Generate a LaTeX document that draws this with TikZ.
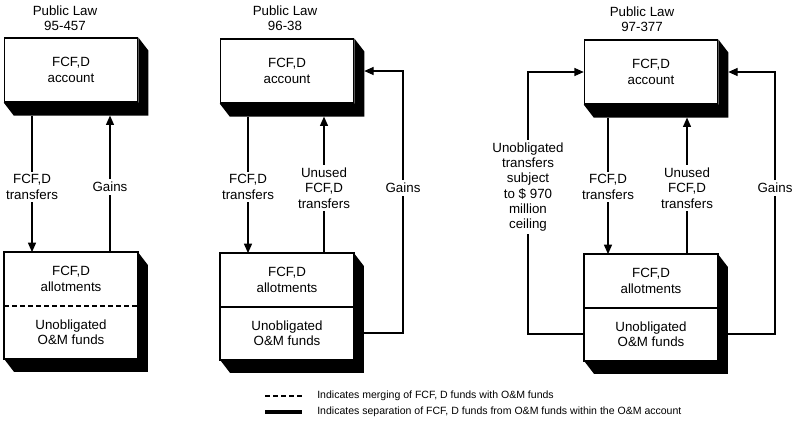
\documentclass[tikz,border=0pt]{standalone}
\usepackage{fontspec}
\setmainfont{Liberation Sans}
\usetikzlibrary{arrows.meta,calc}
\tikzset{
  acct/.style={draw,line width=0.9pt,minimum width=100pt,minimum height=48pt,align=center},
  part/.style={minimum width=100pt,minimum height=40pt,align=center},
  lbl/.style={align=center,inner sep=2pt},
  ln/.style={line width=0.9pt},
  arr/.style={ln,-{Triangle[length=7pt,width=6pt]}},
  merge/.style={line width=1.6pt,dash pattern=on 4pt off 2pt},
  keytext/.style={anchor=west,inner sep=0pt,font=\fontsize{7.9}{9}\selectfont},
}
% black extrusion below and right of a box (top node, bottom node)
\newcommand{\boxshadow}[2]{%
  \fill (#2.south west) -- ($(#2.south west)+(10,13)$) -- ($(#2.south east)+(10,13)$)
    -- ($(#1.north east)+(10,13)$) -- (#1.north east) -- (#2.south east) -- cycle;}
\begin{document}
\begin{tikzpicture}[x=0.75pt,y=-0.75pt,every node/.style={font=\fontsize{10}{11.5}\selectfont}]
    \useasboundingbox (0,0) rectangle (795,425);
    % Public Law 95-457
    \node[lbl] (tit1) at (65,18) {Public Law\\95-457};
    \node[acct] (acc1) at (71,70) {FCF,D\\account};
    \node[part] (allot1) at (71,279) {FCF,D\\allotments};
    \node[part] (funds1) at (71,332) {Unobligated\\O\&M funds};
    \draw[ln] (allot1.north west) rectangle (funds1.south east);
    \draw[merge] (allot1.south west) -- (allot1.south east);
    \boxshadow{acc1}{acc1}
    \boxshadow{allot1}{funds1}
    \node[lbl] (tr1) at (32,187) {FCF,D\\transfers};
    \node[lbl] (g1) at (110,187) {Gains};
    \draw[ln] ($(acc1.south -| tr1)+(0,13)$) -- (tr1.north);
    \draw[arr] (tr1.south) -- (allot1.north -| tr1);
    \draw[ln] (allot1.north -| g1) -- (g1.south);
    \draw[arr] (g1.north) -- ($(acc1.south -| g1)+(0,13)$);
    % Public Law 96-38
    \node[lbl] (tit2) at (285,18) {Public Law\\96-38};
    \node[acct] (acc2) at (287,71) {FCF,D\\account};
    \node[part] (allot2) at (287,280) {FCF,D\\allotments};
    \node[part] (funds2) at (287,333) {Unobligated\\O\&M funds};
    \draw[ln] (allot2.north west) rectangle (funds2.south east);
    \draw[ln] (allot2.south west) -- (allot2.south east);
    \boxshadow{acc2}{acc2}
    \boxshadow{allot2}{funds2}
    \node[lbl] (tr2) at (248,187) {FCF,D\\transfers};
    \node[lbl] (un2) at (324,188) {Unused\\FCF,D\\transfers};
    \node[lbl] (g2) at (403,188) {Gains};
    \draw[ln] ($(acc2.south -| tr2)+(0,13)$) -- (tr2.north);
    \draw[arr] (tr2.south) -- (allot2.north -| tr2);
    \draw[ln] (allot2.north -| un2) -- (un2.south);
    \draw[arr] (un2.north) -- ($(acc2.south -| un2)+(0,13)$);
    \draw[ln] ($(funds2.east)+(10,0)$) -| (g2.south);
    \draw[arr] (g2.north) |- ($(acc2.east)+(10,0)$);
    % Public Law 97-377
    \node[lbl] (tit3) at (642,19) {Public Law\\97-377};
    \node[acct] (acc3) at (651,72) {FCF,D\\account};
    \node[part] (allot3) at (651,281) {FCF,D\\allotments};
    \node[part] (funds3) at (651,334) {Unobligated\\O\&M funds};
    \draw[ln] (allot3.north west) rectangle (funds3.south east);
    \draw[ln] (allot3.south west) -- (allot3.south east);
    \boxshadow{acc3}{acc3}
    \boxshadow{allot3}{funds3}
    \node[lbl] (u3) at (528,187) {Unobligated\\transfers\\subject\\to \$ 970\\million\\ceiling};
    \node[lbl] (tr3) at (608,187) {FCF,D\\transfers};
    \node[lbl] (un3) at (687,188) {Unused\\FCF,D\\transfers};
    \node[lbl] (g3) at (775,188) {Gains};
    \draw[ln] (funds3.west) -| (u3.south);
    \draw[arr] (u3.north) |- (acc3.west);
    \draw[ln] ($(acc3.south -| tr3)+(0,13)$) -- (tr3.north);
    \draw[arr] (tr3.south) -- (allot3.north -| tr3);
    \draw[ln] (allot3.north -| un3) -- (un3.south);
    \draw[arr] (un3.north) -- ($(acc3.south -| un3)+(0,13)$);
    \draw[ln] ($(funds3.east)+(10,0)$) -| (g3.south);
    \draw[arr] (g3.north) |- ($(acc3.east)+(10,0)$);
    % legend
    \node[keytext] (key1) at (317,396) {Indicates merging of FCF, D funds with O\&M funds};
    \node[keytext] (key2) at (317,412) {Indicates separation of FCF, D funds from O\&M funds within the O\&M account};
    \draw[line width=2pt,dash pattern=on 4pt off 2pt] (265,396) -- (302,396);
    \draw[line width=3.5pt] (265,412) -- (302,412);
\end{tikzpicture}
\end{document}
